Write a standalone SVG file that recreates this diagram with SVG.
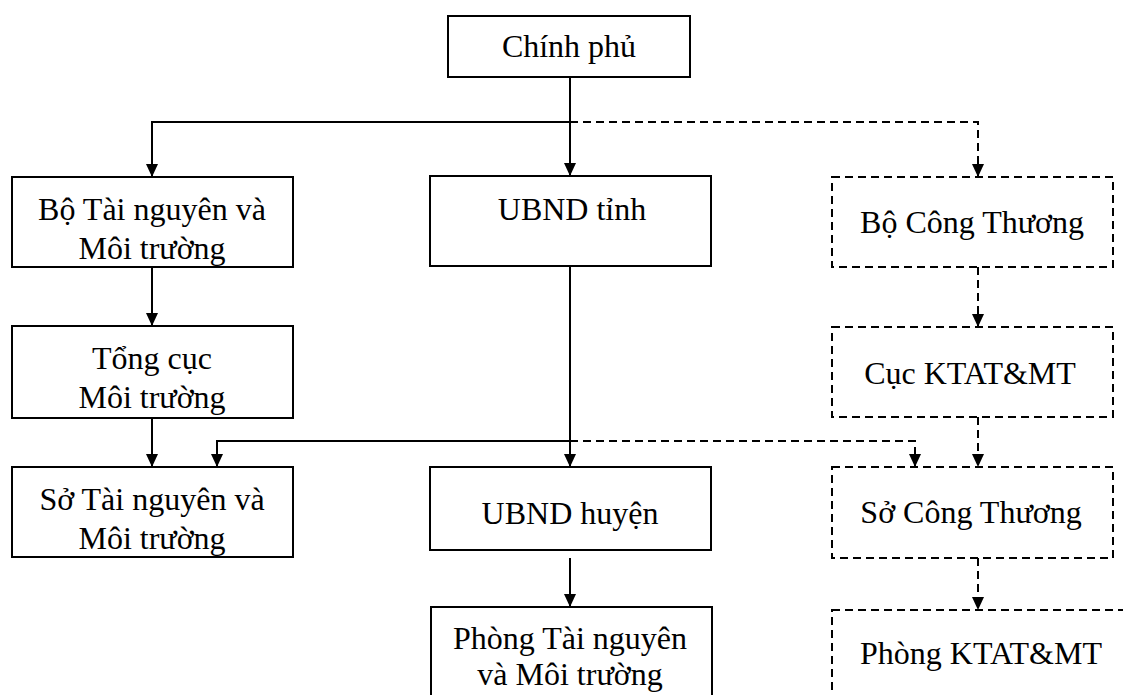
<svg xmlns="http://www.w3.org/2000/svg" width="1123" height="695" viewBox="0 0 1123 695">
  <style>
    .box { fill: #ffffff; stroke: #000000; stroke-width: 2; }
    .dbox { fill: #ffffff; stroke: #000000; stroke-width: 2; stroke-dasharray: 8 5; }
    text { font-family: 'Liberation Serif', 'Times New Roman', serif; font-size: 32px; fill: #000000; text-anchor: middle; }
    .c { fill: none; stroke: #000000; stroke-width: 2; }
    .d { fill: none; stroke: #000000; stroke-width: 2; stroke-dasharray: 8 5; }
  </style>
  <defs>
    <marker id="ah" viewBox="0 0 13 12" refX="13" refY="6" markerWidth="13" markerHeight="12" markerUnits="userSpaceOnUse" orient="auto">
      <path d="M0,0 L13,6 L0,12 Z" fill="#000000" stroke="none"/>
    </marker>
  </defs>
  <rect width="1123" height="695" fill="#ffffff"/>

  <g id="connectors">
    <path class="c" d="M570,77 L570,176" marker-end="url(#ah)"/>
    <path class="c" d="M570,122 L152,122 L152,177" marker-end="url(#ah)"/>
    <path class="d" d="M570,122 L978,122 L978,177" marker-end="url(#ah)"/>
    <path class="c" d="M152,267 L152,326" marker-end="url(#ah)"/>
    <path class="d" d="M978,267 L978,327" marker-end="url(#ah)"/>
    <path class="c" d="M152,418 L152,467" marker-end="url(#ah)"/>
    <path class="c" d="M570,266 L570,467" marker-end="url(#ah)"/>
    <path class="c" d="M570,441 L217,441 L217,467" marker-end="url(#ah)"/>
    <path class="d" d="M570,441 L915,441 L915,467" marker-end="url(#ah)"/>
    <path class="d" d="M978,417 L978,467" marker-end="url(#ah)"/>
    <path class="c" d="M570,558 L570,607" marker-end="url(#ah)"/>
    <path class="d" d="M978,558 L978,610" marker-end="url(#ah)"/>
  </g>

  <g id="chinh-phu">
    <rect class="box" x="448" y="16" width="242" height="61"/>
    <text x="569" y="57">Chính phủ</text>
  </g>

  <g id="bo-tnmt">
    <rect class="box" x="12" y="177" width="281" height="90"/>
    <text x="152" y="220">Bộ Tài nguyên và</text>
    <text x="152" y="259">Môi trường</text>
  </g>

  <g id="ubnd-tinh">
    <rect class="box" x="430" y="176" width="281" height="90"/>
    <text x="572" y="220">UBND tỉnh</text>
  </g>

  <g id="bo-cong-thuong">
    <rect class="dbox" x="832" y="177" width="281" height="90"/>
    <text x="972" y="233">Bộ Công Thương</text>
  </g>

  <g id="tong-cuc">
    <rect class="box" x="12" y="326" width="281" height="92"/>
    <text x="152" y="369">Tổng cục</text>
    <text x="152" y="408">Môi trường</text>
  </g>

  <g id="cuc-ktat">
    <rect class="dbox" x="832" y="327" width="281" height="90"/>
    <text x="970" y="384">Cục KTAT&amp;MT</text>
  </g>

  <g id="so-tnmt">
    <rect class="box" x="12" y="467" width="281" height="90"/>
    <text x="152" y="510">Sở Tài nguyên và</text>
    <text x="152" y="549">Môi trường</text>
  </g>

  <g id="ubnd-huyen">
    <rect class="box" x="430" y="467" width="281" height="83"/>
    <text x="570" y="524">UBND huyện</text>
  </g>

  <g id="so-cong-thuong">
    <rect class="dbox" x="832" y="467" width="281" height="91"/>
    <text x="971" y="523">Sở Công Thương</text>
  </g>

  <g id="phong-tnmt">
    <rect class="box" x="431" y="607" width="281" height="110"/>
    <text x="570" y="649">Phòng Tài nguyên</text>
    <text x="570" y="685">và Môi trường</text>
  </g>

  <g id="phong-ktat">
    <rect class="dbox" x="832" y="610" width="320" height="110"/>
    <text x="981" y="664">Phòng KTAT&amp;MT</text>
  </g>
</svg>
